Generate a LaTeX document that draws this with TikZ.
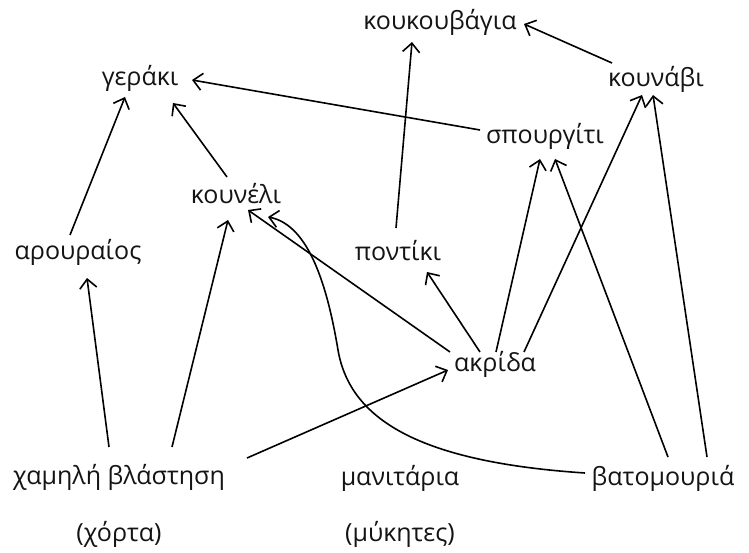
\documentclass[tikz,border=0pt]{standalone}
\usepackage{fontspec}
\setmainfont{Open Sans}
\usetikzlibrary{arrows.meta}
\begin{document}
\begin{tikzpicture}[x=1pt,y=-1pt,
  lbl/.style={inner sep=0pt, font=\fontsize{25}{30}\selectfont, text=black!92},
  edge/.style={line width=1.6pt, -{Straight Barb[length=9pt,width=17pt,line width=1.6pt]}}]
\useasboundingbox[fill=white] (0,0) rectangle (749,553);
\node[lbl] (KK) at (440,22) {κουκουβάγια};
\node[lbl] (GE) at (140,78) {γεράκι};
\node[lbl] (KV) at (656,79) {κουνάβι};
\node[lbl] (SP) at (545,136) {σπουργίτι};
\node[lbl] (KN) at (236,194) {κουνέλι};
\node[lbl] (AR) at (78,252) {αρουραίος};
\node[lbl] (PO) at (398,251) {ποντίκι};
\node[lbl] (AK) at (495,364) {ακρίδα};
\node[lbl] (XB) at (119,477) {χαμηλή βλάστηση};
\node[lbl] (MA) at (400,478) {μανιτάρια};
\node[lbl] (BA) at (663,478) {βατομουριά};
\node[lbl] (XO) at (119,534) {(χόρτα)};
\node[lbl] (MY) at (400,534) {(μύκητες)};
\draw[edge] ([shift={(-44,-16)}]KV.center) -- ([shift={(84,2)}]KK.center);
\draw[edge] ([shift={(-65,-6)}]SP.center) -- ([shift={(52,2)}]GE.center);
\draw[edge] ([shift={(-9,-17)}]KN.center) -- ([shift={(33,25)}]GE.center);
\draw[edge] ([shift={(-8,-17)}]AR.center) -- ([shift={(-15,19)}]GE.center);
\draw[edge] ([shift={(-2,-23)}]PO.center) -- ([shift={(-28,20)}]KK.center);
\draw[edge] ([shift={(-10,-30)}]XB.center) -- ([shift={(9,26)}]AR.center);
\draw[edge] ([shift={(53,-30)}]XB.center) -- ([shift={(-8,26)}]KN.center);
\draw[edge] ([shift={(128,-19)}]XB.center) -- ([shift={(-47,6)}]AK.center);
\draw[edge] ([shift={(-45,-12)}]AK.center) -- ([shift={(12,16)}]KN.center);
\draw[edge] ([shift={(-15,-12)}]AK.center) -- ([shift={(29,21)}]PO.center);
\draw[edge] ([shift={(1,-12)}]AK.center) -- ([shift={(-5,23)}]SP.center);
\draw[edge] ([shift={(29,-12)}]AK.center) -- ([shift={(-14,16)}]KV.center);
\draw[edge] ([shift={(5,-21)}]BA.center) -- ([shift={(10,23)}]SP.center);
\draw[edge] ([shift={(44,-21)}]BA.center) -- ([shift={(-3,16)}]KV.center);
\draw[edge] ([shift={(-78,-5)}]BA.center) .. controls (420,462) and (350,420) .. (338,350)
  .. controls (328,290) and (310,225) .. ([shift={(32,23)}]KN.center);
\end{tikzpicture}
\end{document}
